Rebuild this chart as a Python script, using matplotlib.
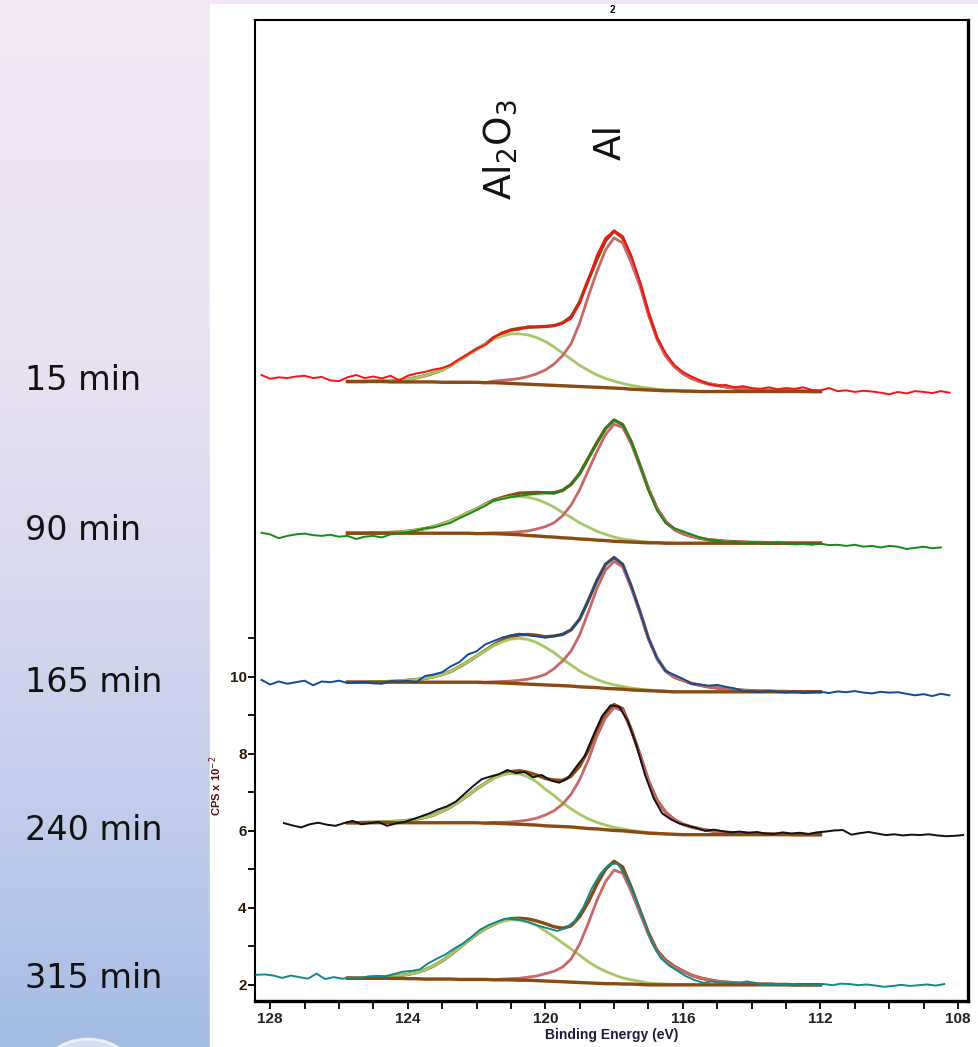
import numpy as np
import matplotlib.pyplot as plt
from matplotlib.patches import Rectangle, Ellipse
from matplotlib.ticker import MultipleLocator

# sputter times and trace colours (top to bottom)
times = ['15 min', '90 min', '165 min', '240 min', '315 min']
trace_colors = ['#ff1010', '#148c14', '#0f4c96', '#111111', '#0e8a8a']

# raw spectra: counts (CPS x 10^-2), 0.25 eV step from the start energy
step = 0.25
data_start = [128.25, 128.25, 128.25, 127.6, 128.4]

d15 = [17.84, 17.74, 17.78, 17.76, 17.80, 17.82, 17.76, 17.79, 17.70, 17.68,
       17.78, 17.84, 17.76, 17.80, 17.75, 17.82, 17.70, 17.82, 17.88, 17.92,
       17.98, 18.02, 18.10, 18.25, 18.38, 18.52, 18.62, 18.80, 18.95, 19.00,
       19.02, 19.10, 19.08, 19.10, 19.12, 19.18, 19.30, 19.70, 20.30, 20.95,
       21.40, 21.58, 21.45, 20.95, 20.25, 19.45, 18.80, 18.40, 18.10, 17.92,
       17.80, 17.70, 17.60, 17.56, 17.58, 17.52, 17.55, 17.50, 17.48, 17.52,
       17.47, 17.50, 17.48, 17.52, 17.45, 17.44, 17.50, 17.42, 17.44, 17.40,
       17.43, 17.41, 17.38, 17.34, 17.40, 17.36, 17.42, 17.40, 17.37, 17.42,
       17.38]
d90 = [13.74, 13.70, 13.60, 13.66, 13.70, 13.72, 13.68, 13.66, 13.69, 13.64,
       13.66, 13.58, 13.64, 13.66, 13.62, 13.70, 13.72, 13.76, 13.80, 13.86,
       13.88, 13.94, 14.00, 14.12, 14.22, 14.33, 14.44, 14.58, 14.62, 14.67,
       14.70, 14.73, 14.75, 14.78, 14.76, 14.84, 15.00, 15.28, 15.68, 16.05,
       16.45, 16.67, 16.55, 16.10, 15.50, 14.85, 14.32, 13.99, 13.86, 13.78,
       13.70, 13.62, 13.56, 13.54, 13.50, 13.52, 13.46, 13.50, 13.47, 13.45,
       13.49, 13.46, 13.44, 13.45, 13.43, 13.46, 13.42, 13.43, 13.40, 13.43,
       13.38, 13.40, 13.36, 13.40, 13.38, 13.32, 13.35, 13.38, 13.34, 13.36]
d165 = [9.92, 9.80, 9.88, 9.82, 9.86, 9.90, 9.78, 9.88, 9.86, 9.90,
        9.84, 9.86, 9.87, 9.83, 9.82, 9.89, 9.88, 9.90, 9.86, 10.02,
        10.06, 10.12, 10.27, 10.38, 10.58, 10.66, 10.84, 10.93, 11.02, 11.08,
        11.12, 11.08, 11.05, 11.02, 11.06, 11.10, 11.22, 11.50, 11.98, 12.50,
        12.92, 13.10, 12.92, 12.35, 11.70, 11.00, 10.48, 10.15, 10.05, 9.95,
        9.82, 9.80, 9.77, 9.79, 9.74, 9.70, 9.63, 9.62, 9.60, 9.63,
        9.61, 9.59, 9.62, 9.58, 9.60, 9.61, 9.58, 9.62, 9.60, 9.63,
        9.59, 9.57, 9.61, 9.59, 9.60, 9.56, 9.52, 9.55, 9.50, 9.56,
        9.52]
d240 = [6.20, 6.14, 6.09, 6.17, 6.21, 6.16, 6.13, 6.20, 6.26, 6.17,
        6.20, 6.23, 6.13, 6.19, 6.23, 6.30, 6.38, 6.46, 6.56, 6.64,
        6.76, 6.96, 7.16, 7.34, 7.41, 7.47, 7.58, 7.50, 7.53, 7.39,
        7.45, 7.31, 7.25, 7.36, 7.66, 7.95, 8.48, 8.98, 9.26, 9.22,
        8.85, 8.22, 7.45, 6.85, 6.45, 6.30, 6.19, 6.13, 6.07, 6.00,
        6.03, 5.99, 5.96, 5.98, 5.95, 5.97, 5.93, 5.92, 5.96, 5.93,
        5.95, 5.92, 5.96, 5.98, 6.01, 6.02, 5.90, 5.94, 5.97, 5.93,
        5.89, 5.91, 5.88, 5.90, 5.89, 5.91, 5.88, 5.86, 5.87, 5.89]
d315 = [2.26, 2.27, 2.24, 2.18, 2.24, 2.20, 2.16, 2.29, 2.15, 2.20,
        2.16, 2.19, 2.17, 2.22, 2.23, 2.22, 2.28, 2.34, 2.36, 2.40,
        2.56, 2.68, 2.79, 2.94, 3.07, 3.24, 3.43, 3.55, 3.64, 3.72,
        3.70, 3.67, 3.60, 3.52, 3.46, 3.40, 3.48, 3.65, 4.00, 4.50,
        4.88, 5.12, 5.16, 4.80, 4.30, 3.70, 3.10, 2.70, 2.50, 2.36,
        2.22, 2.12, 2.05, 2.09, 2.05, 2.06, 2.03, 2.09, 2.05, 1.99,
        2.03, 2.01, 1.99, 2.03, 1.98, 2.00, 2.02, 1.99, 2.03, 2.02,
        1.99, 2.01, 1.98, 1.95, 1.97, 2.00, 1.97, 1.99, 2.01, 1.98,
        2.02]

# fit: background and component heights above it, 0.25 eV step from 125.75 eV
fit_start = 125.75
bg15 = [17.67, 17.67, 17.67, 17.67, 17.67, 17.66, 17.66, 17.66,
        17.66, 17.66, 17.66, 17.65, 17.65, 17.65, 17.65, 17.65,
        17.64, 17.64, 17.63, 17.62, 17.61, 17.60, 17.59, 17.58,
        17.57, 17.56, 17.55, 17.54, 17.53, 17.52, 17.51, 17.50,
        17.49, 17.47, 17.46, 17.45, 17.44, 17.43, 17.43, 17.42,
        17.42, 17.41, 17.41, 17.41, 17.41, 17.41, 17.41, 17.41,
        17.41, 17.41, 17.41, 17.41, 17.41, 17.41, 17.41, 17.41]
ox15 = [0, 0, 0, 0.01, 0.01, 0.02, 0.04, 0.07,
        0.11, 0.16, 0.23, 0.32, 0.44, 0.58, 0.72, 0.86,
        1.00, 1.13, 1.22, 1.29, 1.30, 1.28, 1.22, 1.13,
        1.00, 0.85, 0.70, 0.55, 0.43, 0.32, 0.24, 0.18,
        0.13, 0.10, 0.07, 0.05, 0.03, 0.02, 0.01, 0.01,
        0, 0, 0, 0, 0, 0, 0, 0,
        0, 0, 0, 0, 0, 0, 0, 0]
al15 = [0, 0, 0, 0, 0, 0, 0, 0,
        0, 0, 0, 0, 0, 0, 0, 0,
        0, 0.04, 0.07, 0.10, 0.14, 0.20, 0.28, 0.39,
        0.55, 0.78, 1.10, 1.65, 2.35, 3.00, 3.58, 3.90,
        3.78, 3.28, 2.70, 1.95, 1.33, 0.90, 0.63, 0.45,
        0.34, 0.26, 0.20, 0.16, 0.12, 0.09, 0.07, 0.05,
        0.04, 0.03, 0.02, 0.02, 0.01, 0.01, 0, 0]

bg90 = [13.73, 13.73, 13.73, 13.73, 13.73, 13.73, 13.73, 13.73,
        13.73, 13.73, 13.73, 13.73, 13.73, 13.73, 13.73, 13.72,
        13.72, 13.72, 13.71, 13.70, 13.69, 13.67, 13.66, 13.64,
        13.63, 13.61, 13.60, 13.58, 13.57, 13.55, 13.54, 13.52,
        13.51, 13.50, 13.49, 13.48, 13.48, 13.47, 13.47, 13.47,
        13.47, 13.47, 13.47, 13.47, 13.47, 13.47, 13.47, 13.47,
        13.47, 13.47, 13.47, 13.47, 13.47, 13.47, 13.47, 13.47]
ox90 = [0, 0, 0, 0.01, 0.01, 0.02, 0.03, 0.05,
        0.08, 0.12, 0.17, 0.24, 0.32, 0.42, 0.53, 0.64,
        0.75, 0.85, 0.92, 0.97, 1.00, 0.99, 0.95, 0.88,
        0.78, 0.66, 0.54, 0.42, 0.32, 0.23, 0.16, 0.11,
        0.07, 0.05, 0.03, 0.02, 0.01, 0.01, 0, 0,
        0, 0, 0, 0, 0, 0, 0, 0,
        0, 0, 0, 0, 0, 0, 0, 0]
al90 = [0, 0, 0, 0, 0, 0, 0, 0,
        0, 0, 0, 0, 0, 0, 0, 0,
        0.01, 0.02, 0.03, 0.05, 0.08, 0.12, 0.18, 0.26,
        0.37, 0.57, 0.86, 1.28, 1.79, 2.30, 2.75, 3.04,
        2.97, 2.55, 1.98, 1.38, 0.88, 0.55, 0.36, 0.25,
        0.18, 0.13, 0.09, 0.07, 0.05, 0.04, 0.03, 0.02,
        0.02, 0.01, 0.01, 0, 0, 0, 0, 0]

bg165 = [9.86, 9.86, 9.86, 9.86, 9.86, 9.86, 9.86, 9.86,
         9.86, 9.86, 9.86, 9.86, 9.86, 9.86, 9.86, 9.86,
         9.85, 9.85, 9.84, 9.83, 9.82, 9.81, 9.80, 9.79,
         9.78, 9.77, 9.76, 9.74, 9.73, 9.72, 9.70, 9.69,
         9.68, 9.66, 9.65, 9.64, 9.63, 9.62, 9.61, 9.61,
         9.61, 9.61, 9.61, 9.61, 9.61, 9.61, 9.61, 9.61,
         9.61, 9.61, 9.61, 9.61, 9.61, 9.61, 9.61, 9.61]
ox165 = [0, 0, 0, 0.01, 0.01, 0.02, 0.03, 0.05,
         0.07, 0.10, 0.14, 0.20, 0.28, 0.40, 0.53, 0.68,
         0.82, 0.96, 1.07, 1.15, 1.18, 1.16, 1.09, 0.98,
         0.85, 0.69, 0.55, 0.41, 0.30, 0.21, 0.15, 0.10,
         0.07, 0.05, 0.03, 0.02, 0.01, 0.01, 0, 0,
         0, 0, 0, 0, 0, 0, 0, 0,
         0, 0, 0, 0, 0, 0, 0, 0]
al165 = [0, 0, 0, 0, 0, 0, 0, 0,
         0, 0, 0, 0, 0, 0, 0, 0,
         0.01, 0.02, 0.04, 0.06, 0.09, 0.13, 0.19, 0.27,
         0.43, 0.64, 0.91, 1.35, 1.95, 2.57, 3.07, 3.31,
         3.17, 2.64, 2.02, 1.34, 0.84, 0.52, 0.38, 0.30,
         0.22, 0.17, 0.13, 0.10, 0.08, 0.06, 0.04, 0.03,
         0.02, 0.02, 0.01, 0.01, 0, 0, 0, 0]

bg240 = [6.21, 6.21, 6.21, 6.21, 6.21, 6.21, 6.21, 6.21,
         6.21, 6.21, 6.21, 6.21, 6.21, 6.21, 6.21, 6.21,
         6.20, 6.20, 6.19, 6.18, 6.17, 6.16, 6.15, 6.13,
         6.12, 6.11, 6.10, 6.08, 6.06, 6.05, 6.03, 6.01,
         6.00, 5.98, 5.96, 5.94, 5.93, 5.92, 5.91, 5.90,
         5.90, 5.90, 5.90, 5.90, 5.90, 5.90, 5.90, 5.90,
         5.90, 5.90, 5.90, 5.90, 5.90, 5.90, 5.90, 5.90]
ox240 = [0, 0, 0.01, 0.01, 0.02, 0.03, 0.04, 0.06,
         0.09, 0.14, 0.20, 0.30, 0.41, 0.56, 0.71, 0.88,
         1.03, 1.16, 1.26, 1.31, 1.31, 1.24, 1.12, 0.95,
         0.80, 0.62, 0.47, 0.35, 0.25, 0.17, 0.12, 0.08,
         0.05, 0.03, 0.02, 0.01, 0.01, 0, 0, 0,
         0, 0, 0, 0, 0, 0, 0, 0,
         0, 0, 0, 0, 0, 0, 0, 0]
al240 = [0, 0, 0, 0, 0, 0, 0, 0,
         0, 0, 0, 0, 0, 0, 0, 0,
         0, 0.02, 0.03, 0.05, 0.08, 0.12, 0.18, 0.28,
         0.40, 0.58, 0.85, 1.25, 1.78, 2.40, 2.90, 3.19,
         3.12, 2.62, 2.00, 1.35, 0.85, 0.56, 0.38, 0.27,
         0.20, 0.15, 0.11, 0.08, 0.06, 0.05, 0.04, 0.03,
         0.02, 0.02, 0.01, 0.01, 0, 0, 0, 0]

bg315 = [2.17, 2.17, 2.17, 2.17, 2.17, 2.17, 2.17, 2.16,
         2.16, 2.15, 2.15, 2.15, 2.15, 2.14, 2.14, 2.14,
         2.14, 2.13, 2.13, 2.13, 2.12, 2.12, 2.11, 2.10,
         2.09, 2.08, 2.07, 2.06, 2.05, 2.04, 2.03, 2.03,
         2.02, 2.02, 2.01, 2.00, 2.00, 2.00, 2.00, 2.00,
         2.00, 2.00, 2.00, 2.00, 2.00, 2.00, 2.00, 2.00,
         2.00, 2.00, 2.00, 2.00, 2.00, 2.00, 2.00, 2.00]
ox315 = [0.01, 0.01, 0.01, 0.02, 0.03, 0.05, 0.07, 0.11,
         0.16, 0.24, 0.34, 0.47, 0.63, 0.82, 1.00, 1.17,
         1.32, 1.44, 1.52, 1.56, 1.56, 1.51, 1.43, 1.30,
         1.16, 1.01, 0.86, 0.71, 0.55, 0.42, 0.32, 0.23,
         0.16, 0.11, 0.08, 0.05, 0.03, 0.02, 0.01, 0,
         0, 0, 0, 0, 0, 0, 0, 0,
         0, 0, 0, 0, 0, 0, 0, 0]
al315 = [0, 0, 0, 0, 0, 0, 0, 0,
         0, 0, 0, 0, 0, 0, 0, 0,
         0, 0, 0.02, 0.03, 0.05, 0.08, 0.12, 0.19,
         0.26, 0.38, 0.60, 1.00, 1.55, 2.15, 2.65, 2.95,
         2.88, 2.40, 1.85, 1.30, 0.86, 0.62, 0.47, 0.36,
         0.25, 0.18, 0.13, 0.09, 0.07, 0.05, 0.04, 0.03,
         0.02, 0.02, 0.01, 0.01, 0, 0, 0, 0]

counts = [d15, d90, d165, d240, d315]
backgrounds = [bg15, bg90, bg165, bg240, bg315]
oxide = [ox15, ox90, ox165, ox240, ox315]
metal = [al15, al90, al165, al240, al315]

C_OX = '#a9c764'
C_AL = '#c96868'
C_BG = '#8b4a12'

W, H = 979, 1047
fig = plt.figure(figsize=(W / 100, H / 100), dpi=100)

# slide background: lavender -> blue gradient, white panel for the chart
back = fig.add_axes([0, 0, 1, 1])
stops_y = [0.0, 0.35, 0.6, 0.8, 1.0]
stops_c = np.array([[242, 231, 245], [233, 225, 242], [212, 214, 238],
                    [190, 204, 234], [163, 188, 226]]) / 255.0
yy = np.linspace(0, 1, 300)
grad = np.stack([np.interp(yy, stops_y, stops_c[:, k]) for k in range(3)], axis=1)
back.imshow(grad[:, None, :], aspect='auto', extent=[0, 1, 0, 1])
back.add_patch(Rectangle((210 / W, 0), 1, 1 - 4 / H, color='white'))
back.add_patch(Ellipse((88 / W, 1 - 1098 / H), 118 / W, 118 / H,
                       facecolor='#e8eef8', edgecolor='white', lw=2, alpha=0.7))
back.set_xlim(0, 1)
back.set_ylim(0, 1)
back.axis('off')

for t, yc in zip(times, [380, 531, 683, 830, 978]):
    fig.text(25 / W, 1 - yc / H, t, fontsize=24, va='center', ha='left', color='#111111')

# spectra
ax = fig.add_axes([255 / W, 1 - 1001 / H, 713 / W, 981 / H])
fit_e = fit_start - step * np.arange(len(bg15))

for i in range(5):
    e = data_start[i] - step * np.arange(len(counts[i]))
    bg = np.array(backgrounds[i])
    h_ox = np.array(oxide[i])
    h_al = np.array(metal[i])

    ax.plot(fit_e, bg + h_ox + h_al, color=C_BG, lw=2.4, zorder=2)
    for h, c in [(h_ox, C_OX), (h_al, C_AL)]:
        nz = np.nonzero(h)[0]
        a, b = max(nz[0] - 1, 0), min(nz[-1] + 2, len(h))
        ax.plot(fit_e[a:b], (bg + h)[a:b], color=c, lw=2.0, zorder=3)
    ax.plot(fit_e, bg, color=C_BG, lw=2.4, zorder=4)
    ax.plot(e, counts[i], color=trace_colors[i], lw=1.4, zorder=5)

ax.set_xlim(128.44, 107.71)
ax.set_ylim(1.58, 27.06)

for side in ['top', 'left']:
    ax.spines[side].set_linewidth(1.5)
for side in ['right', 'bottom']:
    ax.spines[side].set_linewidth(2.4)

tick_font = {'family': ['Liberation Sans Narrow', 'Liberation Sans', 'DejaVu Sans'],
             'weight': 'bold', 'size': 11}
ax.set_xticks([128, 124, 120, 116, 112, 108])
ax.xaxis.set_minor_locator(MultipleLocator(1))
ax.set_yticks([2, 4, 6, 8, 10])
ax.set_yticks([3, 5, 7, 9, 11], minor=True)
ax.set_xticklabels(['128', '124', '120', '116', '112', '108'], fontdict=tick_font, color='#222222')
ax.set_yticklabels(['2', '4', '6', '8', '10'], fontdict=tick_font, color='#2a1a0a')
ax.tick_params(axis='x', which='both', direction='out', length=6, width=1.3, pad=2)
ax.tick_params(axis='y', which='both', direction='out', length=5, width=1.3, pad=1)

ax.set_xlabel('Binding Energy (eV)', fontdict=dict(tick_font, size=10), color='#1c1c3c',
              labelpad=1)
ax.set_ylabel(r'CPS x 10$^{-2}$', family=['Liberation Sans', 'DejaVu Sans'],
              weight='bold', fontsize=8, color='#4a1010')
ax.yaxis.set_label_coords((224 - 255) / 713, (1001 - 786) / 981)

fig.text(612 / W, 1 - 10 / H, '2', fontsize=7, weight='bold', ha='center', va='center',
         family=['Liberation Sans', 'DejaVu Sans'])

fig.text(500 / W, 1 - 150 / H, r'Al$\mathregular{_2}$O$\mathregular{_3}$', rotation=90,
         fontsize=27, ha='center', va='center', color='#111111')
fig.text(611 / W, 1 - 142 / H, 'Al', rotation=90, fontsize=27, ha='center', va='center',
         color='#111111')

fig.savefig('out.png', dpi=100)
